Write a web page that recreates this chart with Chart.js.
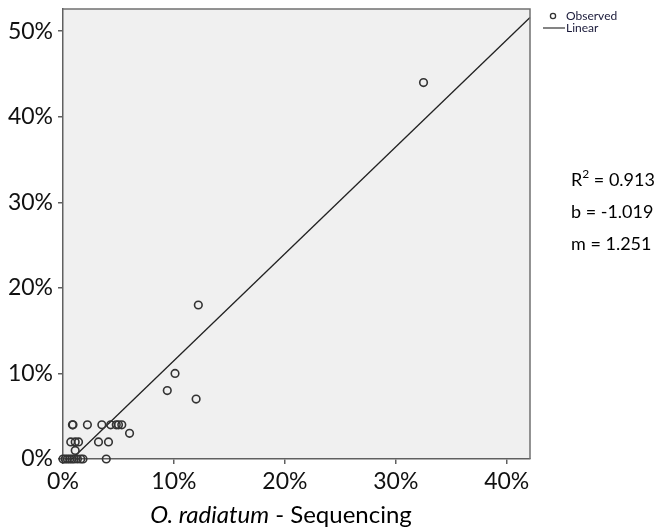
<!DOCTYPE html>
<html lang="en">
<head>
    <meta charset="UTF-8">
    <title>O. radiatum - Sequencing scatter</title>
    <script src="https://cdn.jsdelivr.net/npm/chart.js@4.4.0/dist/chart.umd.min.js"></script>
    <style>
        html, body {
            margin: 0;
            padding: 0;
            background: #ffffff;
        }
        .chart-container {
            width: 656px;
            height: 529px;
        }
    </style>
</head>
<body>

<div class="chart-container">
    <canvas id="scatterChart"></canvas>
</div>

<script>
    // Observed points (percent)
    const obsX = [32.5, 12.2, 10.1, 9.4, 12.0,
                  0.85, 0.9, 2.2, 3.5, 4.3, 4.8, 5.0, 5.3, 6.0,
                  0.7, 1.1, 1.4, 3.2, 4.1, 1.1,
                  0.0, 0.2, 0.4, 0.6, 0.8, 1.0, 1.3, 1.6, 1.8, 3.9];
    const obsY = [44.0, 18.0, 10.0, 8.0, 7.0,
                  4.0, 4.0, 4.0, 4.0, 4.0, 4.0, 4.0, 4.0, 3.0,
                  2.0, 2.0, 2.0, 2.0, 2.0, 1.0,
                  0.0, 0.0, 0.0, 0.0, 0.0, 0.0, 0.0, 0.0, 0.0, 0.0];

    // Fitted line end points (percent)
    const lineX = [0.8, 42.1];
    const lineY = [0.0, 51.6];

    const xTicks = [0, 10, 20, 30, 40];
    const yTicks = [0, 10, 20, 30, 40, 50];

    const fitStats = ['0.913', '-1.019', '1.251'];

    const toPoints = (xs, ys) => xs.map((x, i) => ({ x: x, y: ys[i] }));

    // Plot frame, legend, fit stats and the mixed-style axis title
    const decorPlugin = {
        id: 'decor',
        beforeDraw(chart) {
            const { ctx, chartArea: a } = chart;
            ctx.save();
            ctx.fillStyle = '#f0f0f0';
            ctx.fillRect(a.left, a.top, a.right - a.left, a.bottom - a.top);
            ctx.restore();
        },
        afterDraw(chart) {
            const { ctx, chartArea: a } = chart;
            ctx.save();

            // top and right edges of the frame
            ctx.strokeStyle = '#707070';
            ctx.lineWidth = 1.5;
            ctx.beginPath();
            ctx.moveTo(a.left, a.top);
            ctx.lineTo(a.right, a.top);
            ctx.lineTo(a.right, a.bottom);
            ctx.stroke();

            // legend
            ctx.font = '12px Lato';
            ctx.fillStyle = '#1a1a3a';
            ctx.textBaseline = 'middle';
            ctx.textAlign = 'left';
            ctx.strokeStyle = '#333';
            ctx.lineWidth = 1.3;
            ctx.beginPath();
            ctx.arc(553, 16, 2.6, 0, Math.PI * 2);
            ctx.stroke();
            ctx.fillText('Observed', 566, 16);
            ctx.lineWidth = 1.2;
            ctx.beginPath();
            ctx.moveTo(543, 28);
            ctx.lineTo(565, 28);
            ctx.stroke();
            ctx.fillText('Linear', 566, 28);

            // fit statistics
            ctx.fillStyle = '#000';
            ctx.textBaseline = 'alphabetic';
            let x = 571;
            ctx.font = '18px Lato';
            ctx.fillText('R', x, 186);
            x += ctx.measureText('R').width;
            ctx.font = '12px Lato';
            ctx.fillText('2', x, 178);
            x += ctx.measureText('2').width;
            ctx.font = '18px Lato';
            ctx.fillText(' = ' + fitStats[0], x, 186);
            ctx.fillText('b = ' + fitStats[1], 571, 218);
            ctx.fillText('m = ' + fitStats[2], 571, 250);

            // x axis title
            const part1 = 'O. radiatum';
            const part2 = ' - Sequencing';
            ctx.font = 'italic 24px Lato';
            const w1 = ctx.measureText(part1).width;
            ctx.font = '24px Lato';
            const w2 = ctx.measureText(part2).width;
            let tx = 281 - (w1 + w2) / 2;
            ctx.font = 'italic 24px Lato';
            ctx.fillText(part1, tx, 523);
            ctx.font = '24px Lato';
            ctx.fillText(part2, tx + w1, 523);

            ctx.restore();
        }
    };

    const ctx = document.getElementById('scatterChart').getContext('2d');
    new Chart(ctx, {
        type: 'scatter',
        data: {
            datasets: [{
                label: 'Observed',
                data: toPoints(obsX, obsY),
                pointStyle: 'circle',
                pointRadius: 3.8,
                pointHoverRadius: 3.8,
                borderColor: '#333333',
                backgroundColor: 'rgba(0,0,0,0)',
                borderWidth: 1.6,
                clip: false,
                order: 1
            }, {
                label: 'Linear',
                type: 'line',
                data: toPoints(lineX, lineY),
                showLine: true,
                pointRadius: 0,
                borderColor: '#222222',
                borderWidth: 1.3,
                fill: false,
                clip: false,
                order: 2
            }]
        },
        options: {
            responsive: true,
            maintainAspectRatio: false,
            animation: false,
            events: [],
            layout: {
                padding: { top: 9, right: 126, bottom: 30, left: 0 }
            },
            plugins: {
                legend: { display: false },
                tooltip: { enabled: false }
            },
            scales: {
                x: {
                    type: 'linear',
                    min: 0,
                    max: 42.1,
                    afterFit: scale => {
                        scale.height = 40;
                        scale.paddingLeft = 0;
                        scale.paddingRight = 0;
                    },
                    afterBuildTicks: scale => {
                        scale.ticks = xTicks.map(v => ({ value: v }));
                    },
                    border: { display: true, color: '#606060', width: 1.5 },
                    grid: {
                        drawOnChartArea: false,
                        drawTicks: true,
                        tickLength: 5,
                        color: '#606060',
                        lineWidth: 1.5
                    },
                    ticks: {
                        padding: 4,
                        color: '#111',
                        font: { family: 'Lato', size: 23 },
                        callback: v => v + '%'
                    }
                },
                y: {
                    type: 'linear',
                    min: 0,
                    max: 52.6,
                    afterFit: scale => {
                        scale.width = 63;
                        scale.paddingTop = 0;
                        scale.paddingBottom = 0;
                    },
                    afterBuildTicks: scale => {
                        scale.ticks = yTicks.map(v => ({ value: v }));
                    },
                    border: { display: true, color: '#606060', width: 1.5 },
                    grid: {
                        drawOnChartArea: false,
                        drawTicks: true,
                        tickLength: 5,
                        color: '#606060',
                        lineWidth: 1.5
                    },
                    ticks: {
                        padding: 5,
                        color: '#111',
                        font: { family: 'Lato', size: 23 },
                        callback: v => v + '%'
                    }
                }
            }
        },
        plugins: [decorPlugin]
    });
</script>

</body>
</html>
